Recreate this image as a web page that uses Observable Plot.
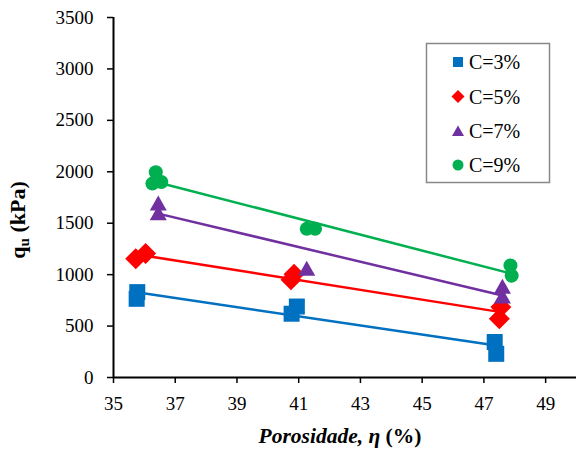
<!DOCTYPE html>
<html>
<head>
<meta charset="utf-8">
<script src="https://cdn.jsdelivr.net/npm/d3@7"></script>
<script src="https://cdn.jsdelivr.net/npm/@observablehq/plot@0.6"></script>
<style>
  html, body { margin: 0; padding: 0; background: #fff; }
  #chart svg { display: block; }
</style>
</head>
<body>
<div id="chart"></div>
<script>
// Unconfined compressive strength vs. porosity, one series per cement content
const seriesNames = ["C=3%", "C=5%", "C=7%", "C=9%"];
const seriesColors = ["#0070C0", "#FF0000", "#7030A0", "#00B050"];

const porosityC3 = [35.77, 35.75, 40.94, 40.77, 47.35, 47.40];
const quC3       = [830, 765, 690, 620, 345, 230];

const porosityC5 = [35.72, 36.04, 40.85, 40.75, 47.55, 47.50];
const quC5       = [1155, 1205, 1005, 950, 685, 570];

const porosityC7 = [36.45, 36.45, 41.26, 47.60, 47.60];
const quC7       = [1695, 1600, 1060, 885, 790];

const porosityC9 = [36.37, 36.26, 36.55, 41.26, 41.53, 47.86, 47.90];
const quC9       = [1995, 1885, 1900, 1445, 1445, 1090, 990];

const xDomain = [35, 50];
const xTicks = [35, 37, 39, 41, 43, 45, 47, 49];
const yDomain = [0, 3500];
const yTicks = [0, 500, 1000, 1500, 2000, 2500, 3000, 3500];

const porosities = [porosityC3, porosityC5, porosityC7, porosityC9];
const strengths = [quC3, quC5, quC7, quC9];

// Marker shapes (r = half extent of the shape in px)
const ext = (size) => Math.sqrt(size / Math.PI);
const squareSym = { draw(c, s) { const r = ext(s); c.rect(-r, -r, 2 * r, 2 * r); } };
const diamondSym = { draw(c, s) { const r = ext(s); c.moveTo(0, -r); c.lineTo(r, 0); c.lineTo(0, r); c.lineTo(-r, 0); c.closePath(); } };
const triangleSym = { draw(c, s) { const r = ext(s); c.moveTo(0, -0.9 * r); c.lineTo(r, 0.85 * r); c.lineTo(-r, 0.85 * r); c.closePath(); } };
const circleSym = { draw(c, s) { const r = ext(s); c.moveTo(r, 0); c.arc(0, 0, r, 0, 2 * Math.PI); c.closePath(); } };
const symbols = [squareSym, diamondSym, triangleSym, circleSym];
const markerR = [8, 10.5, 8.5, 7];
const legendR = [5, 6.5, 6, 5.5];

const rows = seriesNames.map((name, i) =>
  porosities[i].map((x, j) => ({ series: name, x, y: strengths[i][j] }))
);

const marks = [];
// Linear trend line per series
rows.forEach((data, i) => {
  marks.push(Plot.linearRegressionY(data, { x: "x", y: "y", stroke: seriesColors[i], strokeWidth: 2.5, ci: 0 }));
});
// Data points per series
rows.forEach((data, i) => {
  marks.push(Plot.dot(data, { x: "x", y: "y", fill: seriesColors[i], stroke: "none", symbol: symbols[i], r: markerR[i] }));
});
// Axis lines (left and bottom)
marks.push(Plot.ruleX([xDomain[0]], { stroke: "#000", strokeWidth: 2 }));
marks.push(Plot.ruleY([yDomain[0]], { stroke: "#000", strokeWidth: 2 }));

const chart = Plot.plot({
  width: 576,
  height: 450,
  marginLeft: 113,
  marginRight: 0,
  marginTop: 17,
  marginBottom: 73,
  style: { fontFamily: "'Liberation Serif', 'Times New Roman', serif", fontSize: "19px", color: "#000", background: "#fff" },
  x: { domain: xDomain, ticks: xTicks, tickSize: 6, tickPadding: 13, label: null, tickFormat: d3.format("d") },
  y: { domain: yDomain, ticks: yTicks, tickSize: 6, tickPadding: 14, label: null, tickFormat: d3.format("d") },
  marks
});

document.getElementById("chart").appendChild(chart);

const svg = d3.select(chart);
svg.selectAll("[aria-label='x-axis tick'] path, [aria-label='y-axis tick'] path, g[aria-label='x-axis'] path, g[aria-label='y-axis'] path")
  .attr("stroke-width", 1.5);

const serif = "'Liberation Serif', 'Times New Roman', serif";

// Axis titles
const xt = svg.append("text")
  .attr("x", 340).attr("y", 443)
  .attr("text-anchor", "middle")
  .attr("font-family", serif)
  .attr("font-size", 21.5)
  .attr("font-weight", "bold")
  .attr("fill", "#000");
xt.append("tspan").attr("font-style", "italic").text("Porosidade, η");
xt.append("tspan").text(" (%)");

const yt = svg.append("text")
  .attr("transform", "translate(25,220) rotate(-90)")
  .attr("text-anchor", "middle")
  .attr("font-family", serif)
  .attr("font-size", 22)
  .attr("font-weight", "bold")
  .attr("fill", "#000");
yt.append("tspan").text("q");
yt.append("tspan").attr("font-size", 15).attr("dy", 4).text("u");
yt.append("tspan").attr("dy", -4).text(" (kPa)");

// Legend box
const lg = svg.append("g");
lg.append("rect")
  .attr("x", 426.5).attr("y", 43.5).attr("width", 123).attr("height", 139)
  .attr("fill", "#fff").attr("stroke", "#888").attr("stroke-width", 1.5);
const rowY = [62, 96.5, 131, 165];
seriesNames.forEach((name, i) => {
  lg.append("path")
    .attr("transform", `translate(458,${rowY[i]})`)
    .attr("d", d3.symbol(symbols[i], Math.PI * legendR[i] * legendR[i])())
    .attr("fill", seriesColors[i]);
  lg.append("text")
    .attr("x", 469).attr("y", rowY[i]).attr("dy", "0.35em")
    .attr("text-anchor", "start")
    .attr("font-family", serif)
    .attr("font-size", 20)
    .attr("fill", "#000")
    .text(name);
});
</script>
</body>
</html>
